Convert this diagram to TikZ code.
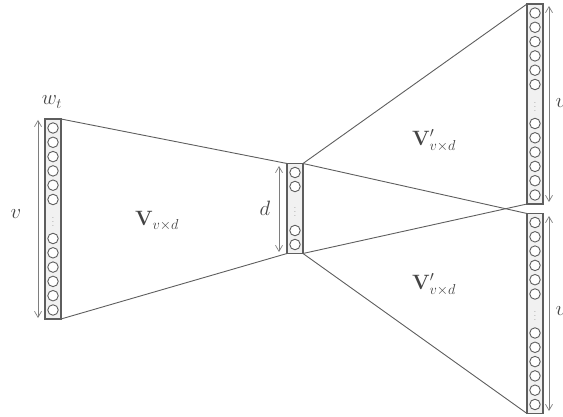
\documentclass[tikz,border=0pt]{standalone}
\usepackage{amsmath,amssymb}
\usepackage{xcolor}
\usetikzlibrary{arrows.meta,positioning}

\definecolor{netgray}{HTML}{5E5E5E}
\definecolor{boxfill}{HTML}{F1F1F1}
\definecolor{labelgray}{HTML}{444444}

\tikzset{
  layerbox/.style={draw=netgray, fill=boxfill, line width=1.1pt, minimum width=16pt, inner sep=0pt, outer sep=0pt},
  unit/.style={circle, draw=netgray, fill=white, line width=0.9pt, minimum size=10.5pt, inner sep=0pt},
  weight/.style={draw=netgray, line width=0.9pt},
  dimarrow/.style={draw=netgray!80, line width=0.7pt, {Straight Barb[length=6pt,width=7pt]}-{Straight Barb[length=6pt,width=7pt]}},
  gap/.style={text=netgray, font=\footnotesize, inner sep=0pt},
  lbl/.style={text=labelgray, font=\fontsize{20}{24}\selectfont}
}

\begin{document}
\begin{tikzpicture}[x=1pt, y=-1pt]
\useasboundingbox (0,0) rectangle (563,417);

% Input layer (one-hot word)
\node[layerbox, minimum height=200pt] (in) at (53,219) {};
\foreach \k in {0,...,5} {
  \node[unit] at (53,128+\k*14.3) {};
  \node[unit] at (53,310-\k*14.3) {};
}
\node[gap] at (53,219) {$\vdots$};

% Hidden layer
\node[layerbox, minimum height=90pt] (hid) at (295,208.5) {};
\foreach \y in {172.5,186.5,230.5,244.5} {\node[unit] at (295,\y) {};}
\node[gap] at (295,209) {$\vdots$};

% Output layers (context words)
\node[layerbox, minimum height=200pt] (outa) at (535,104) {};
\node[layerbox, minimum height=200pt] (outb) at (535,313.5) {};
\foreach \top in {4,213.5} {
  \foreach \k in {0,...,5} {
    \node[unit] at (535,\top+9+\k*14.3) {};
    \node[unit] at (535,\top+191-\k*14.3) {};
  }
  \node[gap] at (535,\top+100) {$\vdots$};
}

% Weight matrices
\draw[weight] (in.north east) -- (hid.north west);
\draw[weight] (in.south east) -- (hid.south west);
\draw[weight] (hid.north east) -- (outa.north west);
\draw[weight] (hid.south east) -- (outa.south west);
\draw[weight] (hid.north east) -- (outb.north west);
\draw[weight] (hid.south east) -- (outb.south west);

% Dimensions
\coordinate (ina) at (38,120);  \coordinate (inz) at (38,318);
\coordinate (hida) at (279,166); \coordinate (hidz) at (279,252);
\coordinate (oa1) at (549,6);   \coordinate (oa2) at (549,202);
\coordinate (ob1) at (549,216); \coordinate (ob2) at (549,411);
\draw[dimarrow] (ina) -- (inz);
\draw[dimarrow] (hida) -- (hidz);
\draw[dimarrow] (oa1) -- (oa2);
\draw[dimarrow] (ob1) -- (ob2);

% Labels
\node[lbl] (wt) at (52,102) {$w_t$};
\node[lbl] (vin) at (16,214) {$v$};
\node[lbl] (dim) at (265,208) {$d$};
\node[lbl] (vout1) at (561,103) {$v$};
\node[lbl] (vout2) at (561,311) {$v$};
\node[lbl] (win) at (157,221) {$\mathbf{V}_{v\times d}$};
\node[lbl] (wouta) at (434,141) {$\mathbf{V}'_{v\times d}$};
\node[lbl] (woutb) at (434,285) {$\mathbf{V}'_{v\times d}$};

\end{tikzpicture}
\end{document}
